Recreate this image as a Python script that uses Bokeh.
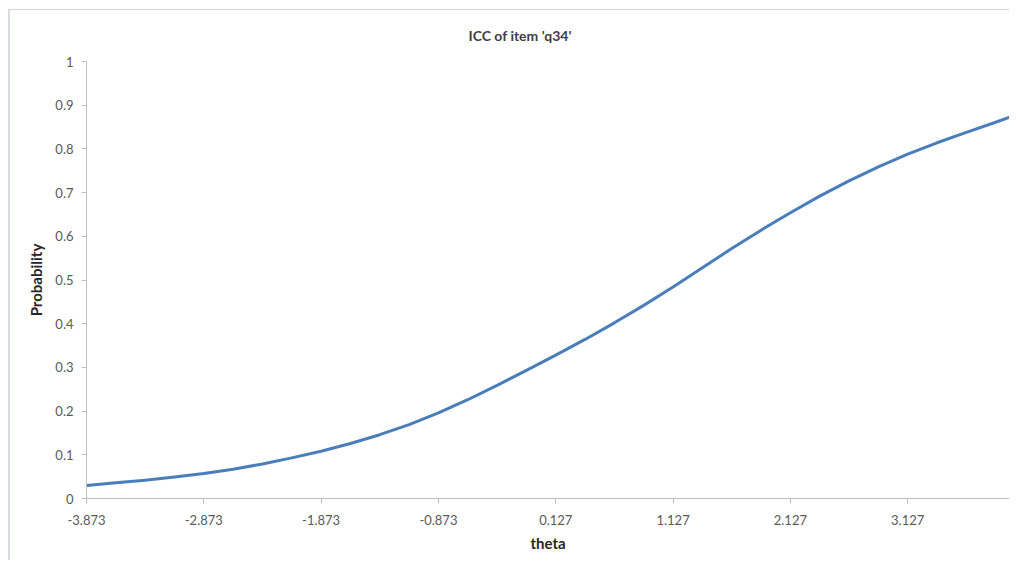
from bokeh.plotting import figure
from bokeh.models import Range1d, FixedTicker, Title
from bokeh.embed import file_html
from bokeh.resources import INLINE

theta = [-3.873, -3.623, -3.373, -3.123, -2.873, -2.623, -2.373, -2.123, -1.873,
         -1.623, -1.373, -1.123, -0.873, -0.623, -0.373, -0.123, 0.127, 0.377,
         0.627, 0.877, 1.127, 1.377, 1.627, 1.877, 2.127, 2.377, 2.627, 2.877,
         3.127, 3.377, 3.627, 3.877, 3.99]
prob = [0.030, 0.036, 0.042, 0.049, 0.057, 0.067, 0.079, 0.093, 0.108,
        0.126, 0.146, 0.169, 0.196, 0.226, 0.259, 0.293, 0.328, 0.364,
        0.402, 0.442, 0.484, 0.528, 0.572, 0.614, 0.654, 0.692, 0.727, 0.759,
        0.788, 0.814, 0.838, 0.861, 0.872]

x_ticks = [-3.873, -2.873, -1.873, -0.873, 0.127, 1.127, 2.127, 3.127]
x_tick_labels = ["-3.873", "-2.873", "-1.873", "-0.873", "0.127", "1.127", "2.127", "3.127"]
y_ticks = [0, 0.1, 0.2, 0.3, 0.4, 0.5, 0.6, 0.7, 0.8, 0.9, 1.0]
y_tick_labels = ["0", "0.1", "0.2", "0.3", "0.4", "0.5", "0.6", "0.7", "0.8", "0.9", "1"]
title_text = "ICC of item 'q34'"

FONT = "Lato"

p = figure(width=1001, height=551, output_backend="svg", toolbar_location=None,
           title=title_text,
           x_range=Range1d(-3.873, 3.995), y_range=Range1d(0, 1),
           min_border_left=76, min_border_right=2, min_border_top=51, min_border_bottom=63)
p.styles = {"margin-left": "8px", "margin-top": "9px",
            "border-top": "1px solid #d4d4d4", "border-left": "2px solid #d8dbe2"}

p.title.align = "left"
p.title.offset = 382
p.title.text_font = FONT
p.title.text_font_size = "14px"
p.title.text_font_style = "bold"
p.title.text_color = "#404040"

spacer = Title(text=" ", text_font_size="10px", standoff=0)
p.add_layout(spacer, "above")

p.line(theta, prob, line_color="#4a7ebb", line_width=3, line_join="round", line_cap="round")

p.outline_line_color = None
p.xgrid.grid_line_color = None
p.ygrid.grid_line_color = None

for ax in (p.xaxis[0], p.yaxis[0]):
    ax.axis_line_color = "#bfbfbf"
    ax.major_tick_line_color = "#bfbfbf"
    ax.minor_tick_line_color = None
    ax.major_tick_in = 0
    ax.major_tick_out = 5
    ax.major_label_text_font = FONT
    ax.major_label_text_font_size = "13px"
    ax.major_label_text_color = "#595959"
    ax.axis_label_text_font = FONT
    ax.axis_label_text_font_size = "15px"
    ax.axis_label_text_font_style = "bold"
    ax.axis_label_text_color = "#262626"

xa = p.xaxis[0]
xa.ticker = FixedTicker(ticks=x_ticks)
xa.major_label_overrides = dict(zip(x_ticks, x_tick_labels))
xa.axis_label = "theta"
xa.major_label_standoff = 11
xa.axis_label_standoff = 6

ya = p.yaxis[0]
ya.ticker = FixedTicker(ticks=y_ticks)
ya.major_label_overrides = dict(zip(y_ticks, y_tick_labels))
ya.axis_label = "Probability"
ya.major_label_standoff = 8
ya.axis_label_standoff = 7

open("out.html", "w").write(file_html(p, INLINE))
